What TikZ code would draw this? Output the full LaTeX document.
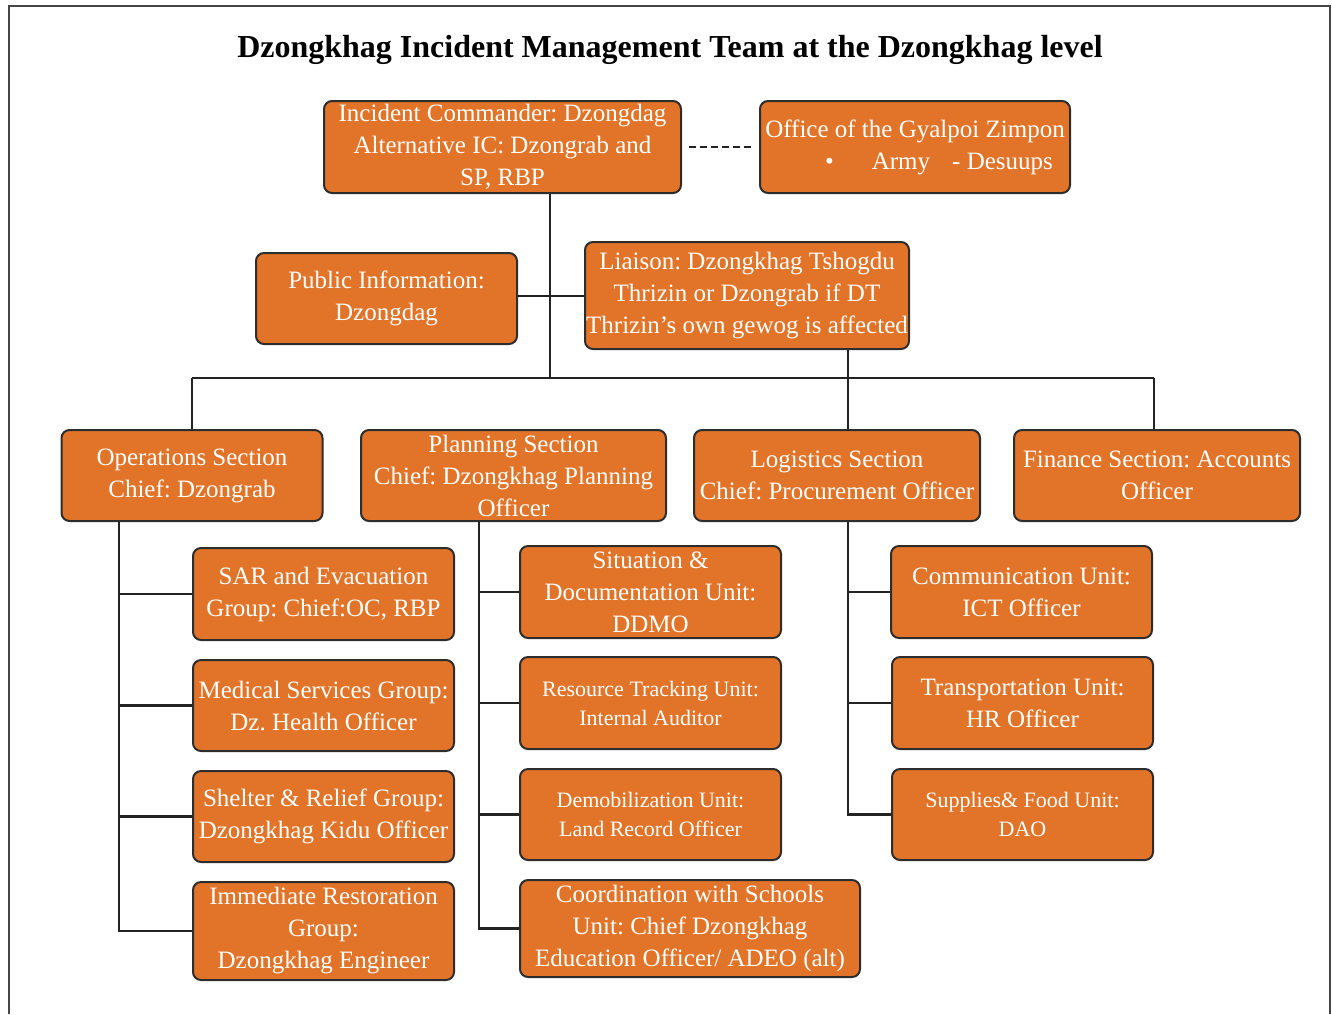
\documentclass[tikz,border=0pt]{standalone}
\usepackage{fontspec}
\setmainfont{Liberation Serif}
\frenchspacing
\definecolor{boxc}{RGB}{225,116,40}
\definecolor{bordc}{RGB}{45,45,45}
\definecolor{linec}{RGB}{35,35,35}
\definecolor{framec}{RGB}{70,70,70}
\begin{document}
\begin{tikzpicture}[x=0.5pt,y=-0.5pt,
  box/.style={draw=bordc, fill=boxc, rounded corners=4pt, line width=1pt, text=white,
    align=center, inner sep=0pt, font=\fontsize{12.5}{16}\selectfont},
  small/.style={font=\fontsize{11}{14.5}\selectfont},
  link/.style={draw=linec, line width=1.2pt},
  frame/.style={draw=framec, line width=0.8pt}]
\useasboundingbox (0,0) rectangle (1332,1014);
\draw[frame] (9,1014) -- (9,6) -- (1330,6) -- (1330,1014);
\node[font=\fontsize{16}{19}\selectfont\bfseries, text=black] (title) at (670,50)
  {Dzongkhag Incident Management Team at the Dzongkhag level};

\node[box, minimum width=178.5pt, minimum height=46pt] (ic) at (502.5,147)
  {Incident Commander: Dzongdag\\Alternative IC: Dzongrab and\\SP, RBP};
\node[box, minimum width=155pt, minimum height=46pt] (off) at (915,147)
  {Office of the Gyalpoi Zimpon\\\hspace*{24pt}\textbullet\hspace{19pt}Army\hspace{11pt}- Desuups};
\node[box, minimum width=130.5pt, minimum height=45.5pt] (pub) at (386.5,298.5)
  {Public Information:\\Dzongdag};
\node[box, minimum width=162pt, minimum height=53.5pt] (lia) at (747,295.5)
  {Liaison: Dzongkhag Tshogdu\\Thrizin or Dzongrab if DT\\Thrizin’s own gewog is affected};

\node[box, minimum width=130.5pt, minimum height=45.5pt] (ops) at (192,475.5)
  {Operations Section\\Chief: Dzongrab};
\node[box, minimum width=152.5pt, minimum height=45.5pt] (plan) at (513.5,475.5)
  {Planning Section\\Chief: Dzongkhag Planning\\Officer};
\node[box, minimum width=143pt, minimum height=45.5pt] (log) at (837,475.5)
  {Logistics Section\\Chief: Procurement Officer};
\node[box, minimum width=143pt, minimum height=45.5pt] (fin) at (1157,475.5)
  {Finance Section: Accounts\\Officer};

\node[box, minimum width=130.5pt, minimum height=46pt] (sar) at (323.5,594)
  {SAR and Evacuation\\Group: Chief:OC, RBP};
\node[box, minimum width=130.5pt, minimum height=45.5pt] (med) at (323.5,705.5)
  {Medical Services Group:\\Dz. Health Officer};
\node[box, minimum width=130.5pt, minimum height=45.5pt] (shel) at (323.5,816.5)
  {Shelter \& Relief Group:\\Dzongkhag Kidu Officer};
\node[box, minimum width=130.5pt, minimum height=49pt] (imm) at (323.5,931)
  {Immediate Restoration\\Group:\\Dzongkhag Engineer};

\node[box, minimum width=130.5pt, minimum height=46pt] (sit) at (650.5,592)
  {Situation \&\\Documentation Unit:\\DDMO};
\node[box, small, minimum width=130.5pt, minimum height=46pt] (res) at (650.5,703)
  {Resource Tracking Unit:\\Internal Auditor};
\node[box, small, minimum width=130.5pt, minimum height=45.5pt] (dem) at (650.5,814.5)
  {Demobilization Unit:\\Land Record Officer};
\node[box, minimum width=170pt, minimum height=48.5pt] (coo) at (690,928.5)
  {Coordination with Schools\\Unit: Chief Dzongkhag\\Education Officer/ ADEO (alt)};

\node[box, minimum width=130.5pt, minimum height=46pt] (com) at (1021.5,592)
  {Communication Unit:\\ICT Officer};
\node[box, minimum width=130.5pt, minimum height=46pt] (tra) at (1022.5,703)
  {Transportation Unit:\\HR Officer};
\node[box, small, minimum width=130.5pt, minimum height=45.5pt] (sup) at (1022.5,814.5)
  {Supplies\& Food Unit:\\DAO};

% connectors
\coordinate (tk) at (550,378);
\coordinate (busL) at (192,378);
\coordinate (busR) at (1154,378);
\coordinate (lx) at (848,378);
\coordinate (ox) at (119,600);
\coordinate (px) at (479,600);
\coordinate (gx) at (848,600);

\draw[link, dash pattern=on 3.5pt off 2pt, shorten <=3.5pt, shorten >=3pt] (ic.east) -- (off.west);
\draw[link] (ic.south -| tk) -- (tk);
\draw[link] (pub.east |- 0,296) -- (lia.west |- 0,296);
\draw[link] (busL) -- (busR);
\draw[link] (busL) -- (ops.north);
\draw[link] (lia.south -| lx) -- (log.north -| lx);
\draw[link] (busR) -- (fin.north -| busR);

\draw[link] (ops.south -| ox) |- (imm.west);
\draw[link] (sar.west -| ox) -- (sar.west);
\draw[link] (med.west -| ox) -- (med.west);
\draw[link] (shel.west -| ox) -- (shel.west);

\draw[link] (plan.south -| px) |- (coo.west);
\draw[link] (sit.west -| px) -- (sit.west);
\draw[link] (res.west -| px) -- (res.west);
\draw[link] (dem.west -| px) -- (dem.west);

\draw[link] (log.south -| gx) |- (sup.west);
\draw[link] (com.west -| gx) -- (com.west);
\draw[link] (tra.west -| gx) -- (tra.west);
\end{tikzpicture}
\end{document}
